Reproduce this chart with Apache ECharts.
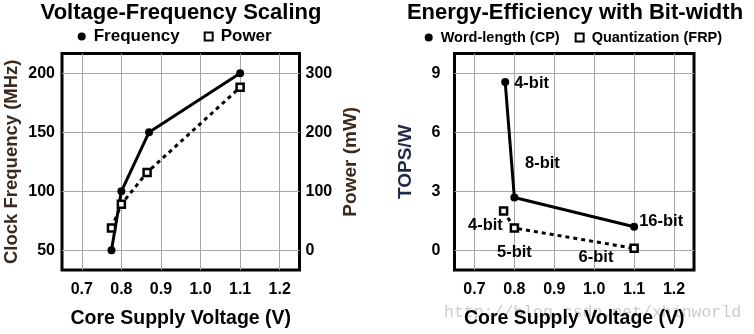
<!DOCTYPE html>
<html><head><meta charset="utf-8">
<script src="https://cdn.jsdelivr.net/npm/echarts@6/dist/echarts.min.js"></script>
<style>html,body{margin:0;padding:0;background:#fff}#c{width:754px;height:334px}</style>
</head><body><div id="c"></div>
<script>
// ---- data ----
const voltTicks = [0.7, 0.8, 0.9, 1.0, 1.1, 1.2];
const freqTicks = [50, 100, 150, 200];
const powerTicks = [0, 100, 200, 300];
const topsTicks = [0, 3, 6, 9];

const freqVolt = [0.775, 0.8, 0.87, 1.1];
const freqMHz = [50, 100, 150, 200];
const powerVolt = [0.775, 0.8, 0.865, 1.1];
const powerMW = [38, 78, 132, 276];

const cpVolt = [0.777, 0.8, 1.1];
const cpTops = [8.55, 2.68, 1.2];
const cpLabels = ['4-bit', '8-bit', '16-bit'];
const frpVolt = [0.773, 0.8, 1.1];
const frpTops = [2.0, 1.13, 0.1];
const frpLabels = ['4-bit', '5-bit', '6-bit'];

// ---- chart ----
const FF = '"Liberation Sans", Arial, sans-serif';
const chart = echarts.init(document.getElementById('c'), null, {renderer: 'canvas'});

function xAxisFor(gi) {
  return {
    type: 'value', gridIndex: gi, min: 0.65, max: 1.25,
    axisLine: {show: false},
    axisTick: {show: false, customValues: voltTicks},
    axisLabel: {customValues: voltTicks, formatter: v => v.toFixed(1), fontSize: 16, fontWeight: 'bold', color: '#000', margin: 12, fontFamily: FF},
    splitLine: {show: true, lineStyle: {color: '#a6a6a6', width: 1}},
    name: 'Core Supply Voltage (V)', nameLocation: 'middle', nameGap: 39,
    nameTextStyle: {fontSize: 19.5, fontWeight: 'bold', color: '#000', fontFamily: FF}
  };
}
function yAxisFor(gi, pos, min, max, ticks, name, nameColor, margin, nameGap, nameSize, split) {
  return {
    type: 'value', gridIndex: gi, position: pos, min: min, max: max,
    axisLine: {show: false},
    axisTick: {show: false, customValues: ticks},
    axisLabel: {customValues: ticks, fontSize: 16, fontWeight: 'bold', color: '#000', margin: margin, fontFamily: FF},
    splitLine: {show: split, lineStyle: {color: '#a6a6a6', width: 1}},
    name: name, nameLocation: 'middle', nameGap: nameGap, nameRotate: 90,
    nameTextStyle: {fontSize: nameSize, fontWeight: 'bold', color: nameColor, fontFamily: FF}
  };
}

const cpLabelCfg = [
  {position: 'right', offset: [0, 1]},
  {position: 'top', offset: [28, -17]},
  {position: 'right', offset: [-4, -5]}
];
const frpLabelCfg = [
  {position: 'left', offset: [9, 14]},
  {position: 'bottom', offset: [0, 6]},
  {position: 'left', offset: [-11, 9]}
];

const solidBlack = {color: '#000', width: 3};
const dashedBlack = {color: '#000', width: 3, type: [4, 4]};
const hollowSquare = {color: '#fff', borderColor: '#000', borderWidth: 2.5};
const labelBase = {show: true, fontSize: 16.5, fontWeight: 'bold', color: '#000', fontFamily: FF};

const option = {
  animation: false,
  backgroundColor: '#fff',
  title: [
    {text: 'Voltage-Frequency Scaling', left: 181, top: 2, textAlign: 'center', padding: 0,
     textStyle: {fontSize: 22, fontWeight: 'bold', color: '#000', fontFamily: FF}},
    {text: 'Energy-Efficiency with Bit-width', left: 575, top: 2, textAlign: 'center', padding: 0,
     textStyle: {fontSize: 22, fontWeight: 'bold', color: '#000', fontFamily: FF}}
  ],
  legend: [
    {data: [{name: 'Frequency', icon: 'circle', itemStyle: {color: '#000', borderWidth: 0}},
            {name: 'Power', icon: 'rect', itemStyle: {color: '#fff', borderColor: '#000', borderWidth: 2}}],
     left: 77.7, top: 28, padding: 0, itemWidth: 8, itemHeight: 8, itemGap: 24, selectedMode: false,
     textStyle: {fontSize: 17, fontWeight: 'bold', color: '#000', fontFamily: FF, padding: [0, 0, 0, 3]}},
    {data: [{name: 'Word-length (CP)', icon: 'circle', itemStyle: {color: '#000', borderWidth: 0}},
            {name: 'Quantization (FRP)', icon: 'rect', itemStyle: {color: '#fff', borderColor: '#000', borderWidth: 2}}],
     left: 424.7, top: 30, padding: 0, itemWidth: 8, itemHeight: 8, itemGap: 15, selectedMode: false,
     textStyle: {fontSize: 14.5, fontWeight: 'bold', color: '#000', fontFamily: FF, padding: [0, 0, 0, 3]}}
  ],
  grid: [
    {left: 62, top: 53.5, width: 237.5, height: 217.5, show: true, borderColor: '#000', borderWidth: 3, backgroundColor: 'transparent'},
    {left: 454.5, top: 53.5, width: 239.5, height: 217.5, show: true, borderColor: '#000', borderWidth: 3, backgroundColor: 'transparent'}
  ],
  xAxis: [xAxisFor(0), xAxisFor(1)],
  yAxis: [
    yAxisFor(0, 'left', 100 / 3, 650 / 3, freqTicks, 'Clock Frequency (MHz)', '#3b2a1c', 7, 40.5, 18.5, true),
    yAxisFor(0, 'right', -100 / 3, 1000 / 3, powerTicks, 'Power (mW)', '#3b2a1c', 6, 41.5, 19, false),
    yAxisFor(1, 'left', -1, 10, topsTicks, 'TOPS/W', '#1f2a44', 14, 39, 19, true)
  ],
  series: [
    {name: 'Frequency', type: 'line', xAxisIndex: 0, yAxisIndex: 0,
     data: freqVolt.map((v, i) => [v, freqMHz[i]]),
     symbol: 'circle', symbolSize: 8, itemStyle: {color: '#000'}, lineStyle: solidBlack},
    {name: 'Power', type: 'line', xAxisIndex: 0, yAxisIndex: 1,
     data: powerVolt.map((v, i) => [v, powerMW[i]]),
     symbol: 'rect', symbolSize: 7, itemStyle: hollowSquare, lineStyle: dashedBlack},
    {name: 'Word-length (CP)', type: 'line', xAxisIndex: 1, yAxisIndex: 2,
     data: cpVolt.map((v, i) => ({value: [v, cpTops[i]], label: Object.assign({}, labelBase, cpLabelCfg[i], {formatter: cpLabels[i]})})),
     symbol: 'circle', symbolSize: 8, itemStyle: {color: '#000'}, lineStyle: solidBlack},
    {name: 'Quantization (FRP)', type: 'line', xAxisIndex: 1, yAxisIndex: 2,
     data: frpVolt.map((v, i) => ({value: [v, frpTops[i]], label: Object.assign({}, labelBase, frpLabelCfg[i], {formatter: frpLabels[i]})})),
     symbol: 'rect', symbolSize: 7, itemStyle: hollowSquare, lineStyle: dashedBlack}
  ],
  graphic: [
    {type: 'text', left: 444, top: 304, z: -10, silent: true,
     style: {text: 'http://blog.csdn.net/xhinworld', fill: '#cccccc', font: '16.5px "Liberation Mono", monospace'}}
  ]
};
chart.setOption(option);
</script>
</body></html>
